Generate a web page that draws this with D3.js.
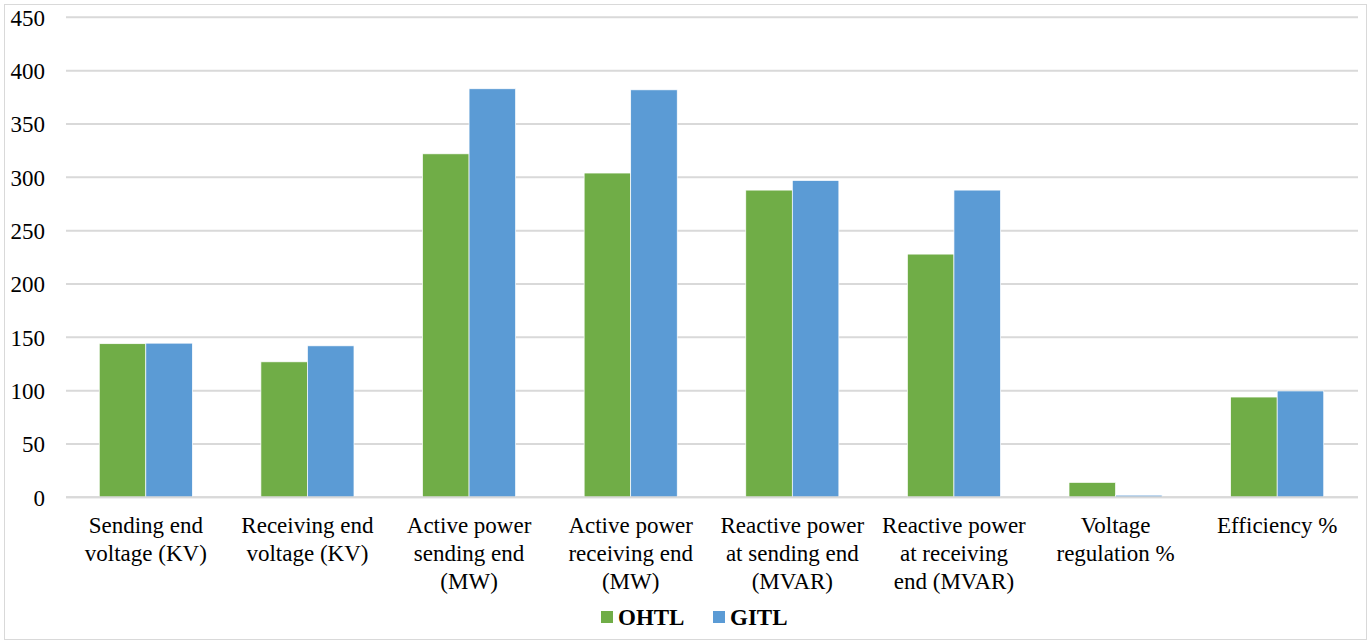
<!DOCTYPE html>
<html><head><meta charset="utf-8">
<script src="https://cdn.jsdelivr.net/npm/d3@7"></script>
<style>body{margin:0;background:#fff}svg{display:block}</style>
</head><body>
<svg id="c" width="1371" height="641"></svg>
<script>
const categories = [
  ["Sending end","voltage (KV)"],
  ["Receiving end","voltage (KV)"],
  ["Active power","sending end","(MW)"],
  ["Active power","receiving end","(MW)"],
  ["Reactive power","at sending end","(MVAR)"],
  ["Reactive power","at receiving","end (MVAR)"],
  ["Voltage","regulation %"],
  ["Efficiency %"]
];
const seriesNames = ["OHTL","GITL"];
const ohtl = [144, 127, 322, 304, 288, 228, 14, 94];
const gitl = [144.5, 142, 383, 382, 297, 288, 2, 99.7];
const yTicks = [0,50,100,150,200,250,300,350,400,450];
const colors = ["#70AD47","#5B9BD5"];

const FONT = '"Liberation Serif", "Times New Roman", serif';
const svg = d3.select("#c");
const W = 1371, H = 641;
const m = {l:65, r:13, t:17.3, b:143.7};
svg.append("rect").attr("x",4.5).attr("y",4.5).attr("width",1362).attr("height",635)
  .attr("fill","#fff").attr("stroke","#d9d9d9").attr("stroke-width",1);

const x0 = d3.scaleBand().domain(d3.range(categories.length)).range([m.l, W-m.r]).paddingInner(0.424).paddingOuter(0.212);
const x1 = d3.scaleBand().domain([0,1]).range([0, x0.bandwidth()]);
const y = d3.scaleLinear().domain([0,450]).range([H-m.b, m.t]);

const g = svg.append("g");
g.selectAll("line.grid").data(yTicks).join("line")
  .attr("x1",66).attr("x2",W-m.r).attr("y1",d=>y(d)).attr("y2",d=>y(d))
  .attr("stroke","#d9d9d9").attr("stroke-width",2);
const yAxis = d3.axisLeft(y).tickValues(yTicks).tickSize(0).tickPadding(0);
const ya = g.append("g").attr("transform",`translate(45,0)`).call(yAxis);
ya.select(".domain").remove();
ya.attr("font-family", null);
ya.selectAll("text").style("font-family",FONT).style("font-size","23px").attr("fill","#000").attr("dy","0.34em");

const data = [ohtl, gitl];
categories.forEach((c,i)=>{
  const grp = g.append("g").attr("transform",`translate(${x0(i)},0)`);
  grp.selectAll("rect").data([0,1]).join("rect")
    .attr("x",s=>x1(s)).attr("width",x1.bandwidth())
    .attr("y",s=>y(data[s][i])).attr("height",s=>y(0)-y(data[s][i]))
    .attr("fill",s=>colors[s]).attr("stroke","#fff").attr("stroke-width",0.7);
  const t = g.append("text").style("font-family",FONT).style("font-size","23px").attr("fill","#000")
    .attr("text-anchor","middle");
  c.forEach((line,k)=>{
    t.append("tspan").attr("x",x0(i)+x0.bandwidth()/2).attr("y",533+k*28).text(line);
  });
});
g.append("line").attr("x1",66).attr("x2",W-m.r).attr("y1",y(0)).attr("y2",y(0))
  .attr("stroke","#d9d9d9").attr("stroke-width",2);

const leg = svg.append("g");
const legX = [601, 713];
seriesNames.forEach((n,i)=>{
  leg.append("rect").attr("x",legX[i]).attr("y",611).attr("width",12).attr("height",12).attr("fill",colors[i]);
  leg.append("text").attr("x",legX[i]+17).attr("y",625).style("font-family",FONT).style("font-weight","bold")
    .style("font-size","23px").attr("fill","#000").text(n);
});
</script>
</body></html>
